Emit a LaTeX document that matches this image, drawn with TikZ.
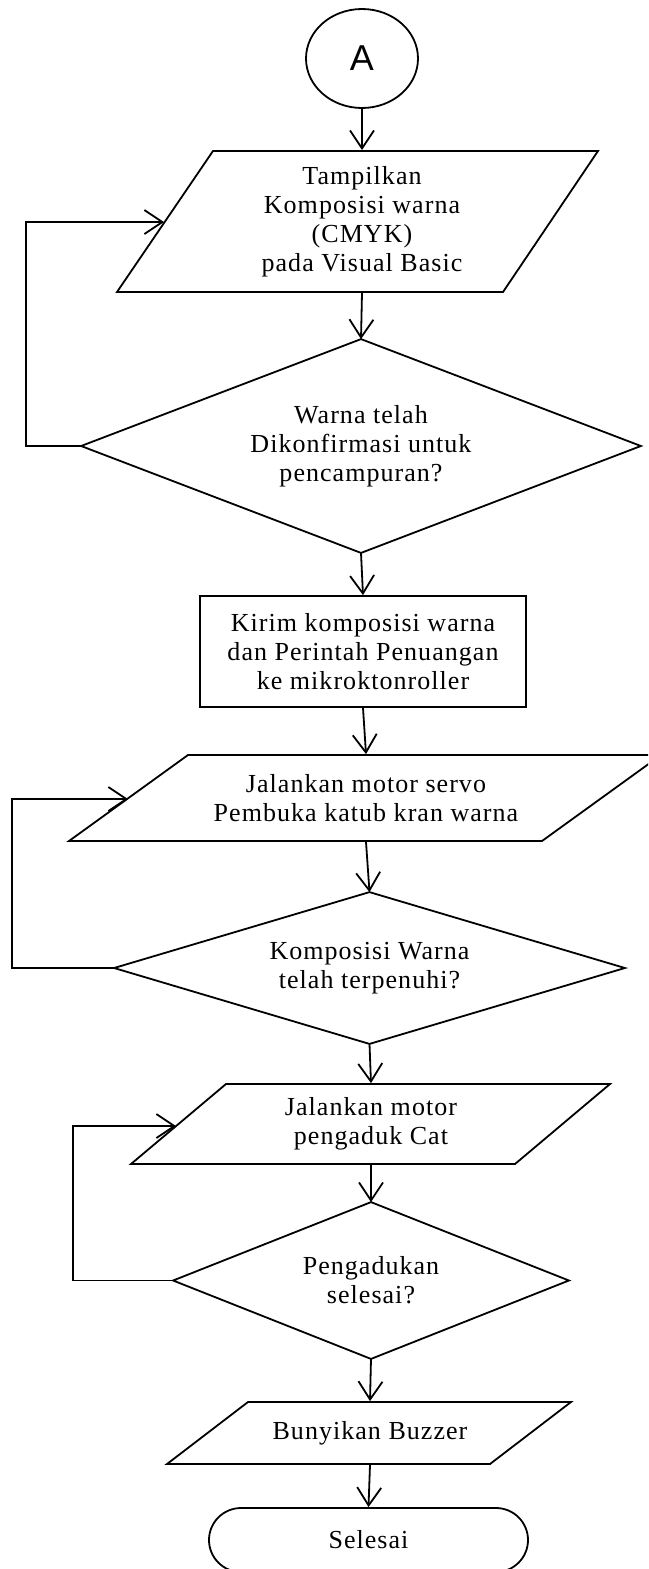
\documentclass[tikz,border=0pt]{standalone}
\usepackage{fontspec}
\setmainfont{Liberation Serif}[LetterSpace=4]
\newfontfamily\asans{Liberation Sans}
\usetikzlibrary{arrows.meta,shapes.geometric}
\begin{document}
\begin{tikzpicture}[x=1pt,y=-1pt,
  line width=1.8pt,
  arr/.style={-{Straight Barb[length=18pt,width=24pt]}},
  shp/.style={draw, line join=miter},
  txt/.style={align=center, inner sep=0pt, font=\fontsize{26}{29}\selectfont},
]
\useasboundingbox (0,0) rectangle (648,1569);
\clip (0,0) rectangle (648,1569);

% start connector
\node[draw, ellipse, minimum width=112pt, minimum height=99pt, inner sep=0pt,
      font=\asans\fontsize{36}{36}\selectfont] (A) at (362,58.5) {A};

% P1
\node[txt, minimum height=141pt] (p1) at (362,221.5) {Tampilkan\\Komposisi warna\\(CMYK)\\pada Visual Basic};
\draw[shp] (213,151) -- (598,151) -- (503,292) -- (117,292) -- cycle;
\coordinate (p1in) at (164,222);

% D1
\node[txt, minimum width=558pt, minimum height=212pt] (d1) at (361,446) {Warna telah\\Dikonfirmasi untuk\\pencampuran?};
\draw[shp] (d1.north) -- (d1.east) -- (d1.south) -- (d1.west) -- cycle;

% Process
\node[txt, draw, minimum width=326pt, minimum height=111pt] (r1) at (363,651.5) {Kirim komposisi warna\\dan Perintah Penuangan\\ke mikroktonroller};

% P2
\node[txt, minimum height=86pt] (p2) at (366,798) {Jalankan motor servo\\Pembuka katub kran warna};
\draw[shp] (188,755) -- (661,755) -- (542,841) -- (69,841) -- cycle;
\coordinate (p2in) at (128,799);

% D2
\node[txt, minimum width=509pt, minimum height=150pt] (d2) at (369.5,968) {Komposisi Warna\\telah terpenuhi?};
\draw[shp] (d2.north) -- (d2.east) -- (d2.south) -- (d2.west) -- cycle;

% P3
\node[txt, minimum height=80pt] (p3) at (371,1124) {Jalankan motor\\pengaduk Cat};
\draw[shp] (226,1084) -- (610,1084) -- (515,1164) -- (131,1164) -- cycle;
\coordinate (p3in) at (176,1126);

% D3
\node[txt, minimum width=394pt, minimum height=155pt] (d3) at (371,1280.5) {Pengadukan\\selesai?};
\draw[shp] (d3.north) -- (d3.east) -- (d3.south) -- (d3.west) -- cycle;

% P4
\node[txt, minimum height=62pt] (p4) at (370,1433) {Bunyikan Buzzer};
\draw[shp] (248,1402) -- (571,1402) -- (490,1464) -- (167,1464) -- cycle;

% Terminal
\node[txt, draw, rounded corners=32pt, minimum width=319pt, minimum height=64pt] (t) at (368.5,1540) {Selesai};

% connectors
\draw[arr] (A.south) -- (p1.north);
\draw[arr] (p1.south) -- (d1.north);
\draw[arr] (d1.south) -- (r1.north);
\draw[arr] (r1.south) -- (p2.north);
\draw[arr] (p2.south) -- (d2.north);
\draw[arr] (d2.south) -- (p3.north);
\draw[arr] (p3.south) -- (d3.north);
\draw[arr] (d3.south) -- (p4.north);
\draw[arr] (p4.south) -- (t.north);

% loops
\draw[arr] (d1.west) -- ++(-55,0) |- (p1in);
\draw[arr] (d2.west) -- ++(-102,0) |- (p2in);
\draw[arr] (d3.west) -- ++(-100,0) |- (p3in);
\end{tikzpicture}
\end{document}
